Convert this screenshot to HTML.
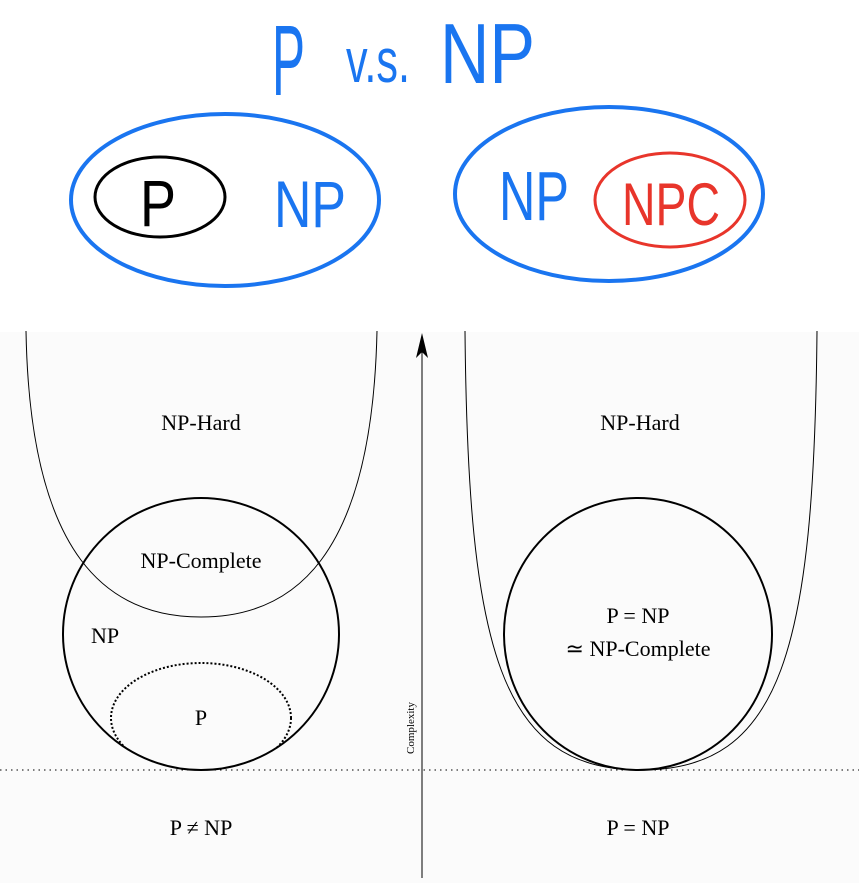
<!DOCTYPE html>
<html><head><meta charset="utf-8"><style>
html,body{margin:0;padding:0;background:#fff;}
svg{display:block;}
</style></head><body>
<svg width="859" height="883" viewBox="0 0 859 883" xmlns="http://www.w3.org/2000/svg">
<rect x="0" y="0" width="859" height="883" fill="#fff"/>
<rect x="0" y="332" width="859" height="551" fill="#fbfbfb"/>
<g font-family="Liberation Sans, sans-serif" fill="#1a75f0">
<text x="272" y="95" font-size="100" textLength="33" lengthAdjust="spacingAndGlyphs">P</text>
<text x="346" y="82" font-size="62" textLength="64" lengthAdjust="spacingAndGlyphs">v.s.</text>
<text x="440" y="83" font-size="85" textLength="95" lengthAdjust="spacingAndGlyphs">NP</text>
<text x="274" y="227" font-size="66" textLength="72" lengthAdjust="spacingAndGlyphs">NP</text>
<text x="499" y="220" font-size="70" textLength="70" lengthAdjust="spacingAndGlyphs">NP</text>
</g>
<text x="140" y="226" font-family="Liberation Sans, sans-serif" font-size="66" textLength="36" lengthAdjust="spacingAndGlyphs" fill="#000">P</text>
<text x="622" y="225" font-family="Liberation Sans, sans-serif" font-size="60" textLength="98" lengthAdjust="spacingAndGlyphs" fill="#e8352b">NPC</text>
<ellipse cx="225" cy="200" rx="154" ry="86" fill="none" stroke="#1a75f0" stroke-width="4"/>
<ellipse cx="160" cy="197" rx="65" ry="40" fill="none" stroke="#000" stroke-width="3"/>
<ellipse cx="609" cy="194" rx="154" ry="87" fill="none" stroke="#1a75f0" stroke-width="4"/>
<ellipse cx="670" cy="200" rx="75" ry="47" fill="none" stroke="#e8352b" stroke-width="3"/>

<path d="M26,331 C30,560 110,617 201,617 C292,617 372,560 377,331" fill="none" stroke="#000" stroke-width="1"/>
<ellipse cx="201" cy="634" rx="138" ry="136" fill="none" stroke="#000" stroke-width="2"/>
<clipPath id="cc"><ellipse cx="201" cy="634" rx="138" ry="136"/></clipPath>
<ellipse cx="201" cy="718" rx="90" ry="55" fill="none" stroke="#000" stroke-width="2" stroke-dasharray="2,2" clip-path="url(#cc)"/>
<path d="M465,331 C468,650 500,770 641,770 C782,770 814,650 817,331" fill="none" stroke="#000" stroke-width="1"/>
<ellipse cx="638" cy="634" rx="134" ry="136" fill="none" stroke="#000" stroke-width="2"/>
<line x1="0" y1="770" x2="859" y2="770" stroke="#000" stroke-width="1" stroke-dasharray="1.5,4"/>
<line x1="422" y1="345" x2="422" y2="878" stroke="#000" stroke-width="1"/>
<path d="M422,333 L416,358 L422,352 L428,358 Z" fill="#000"/>
<g font-family="Liberation Serif, serif" font-size="22" fill="#000" text-anchor="middle">
<text x="201" y="430">NP-Hard</text>
<text x="640" y="430">NP-Hard</text>
<text x="201" y="568">NP-Complete</text>
<text x="105" y="643">NP</text>
<text x="201" y="725">P</text>
<text x="638" y="623">P = NP</text>
<text x="638" y="656">≃ NP-Complete</text>
<text x="201" y="835">P ≠ NP</text>
<text x="638" y="835">P = NP</text>
<text x="0" y="0" font-size="11" transform="translate(414,728) rotate(-90)">Complexity</text>
</g>
</svg>
</body></html>
